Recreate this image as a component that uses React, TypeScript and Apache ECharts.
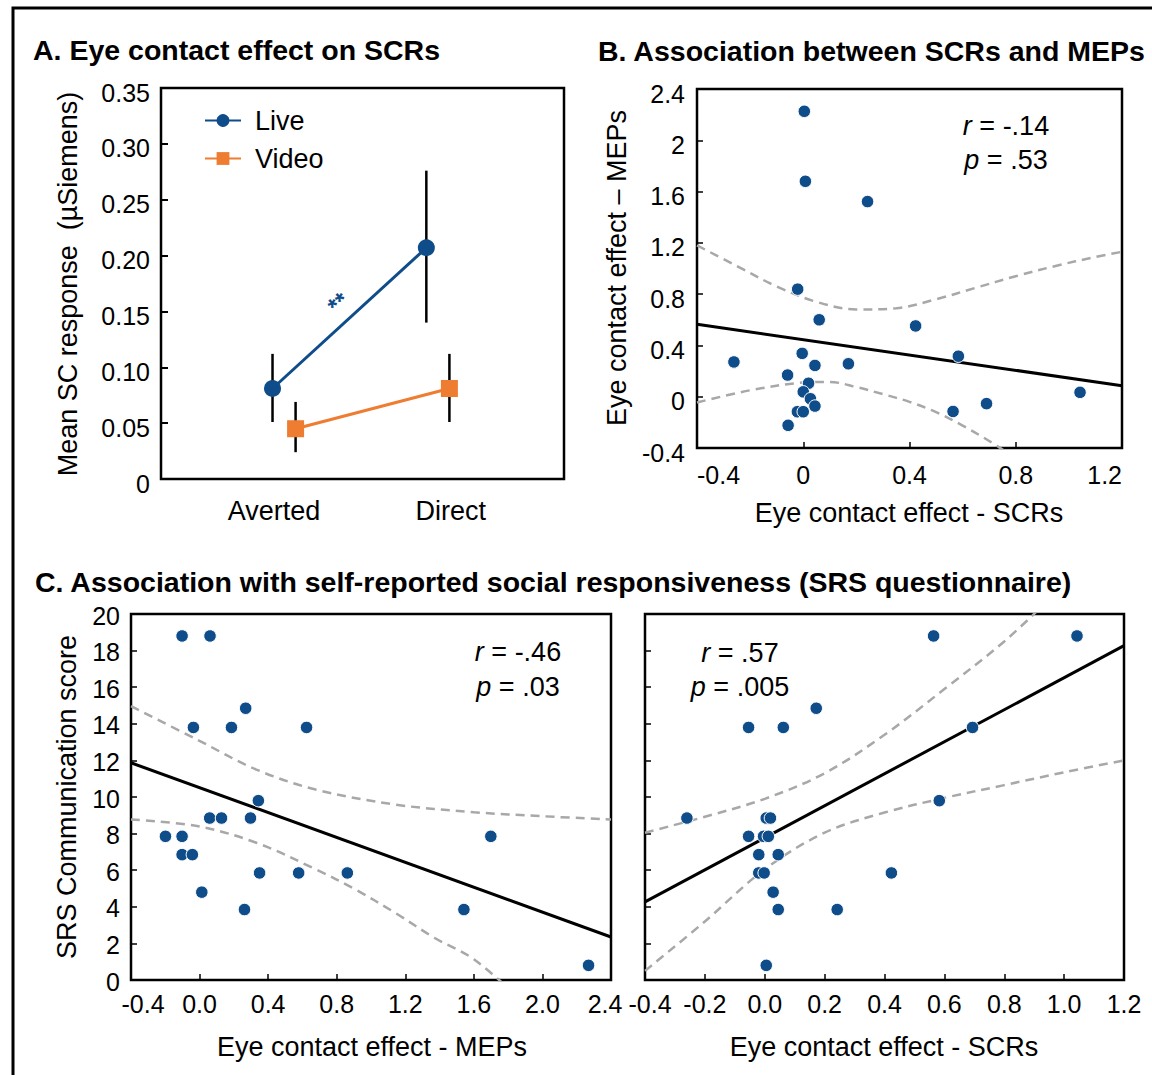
import React, { useEffect, useRef } from 'react';
import * as echarts from 'echarts';

const FONT = '"Liberation Sans", Arial, Helvetica, sans-serif';
const BLUE = '#0e4c8a';
const ORANGE = '#ee7d31';
const DASH_GREY = '#a8a8a8';

// ---------- A. Eye contact effect on SCRs ----------
const conditions = ['Averted', 'Direct'];
const liveMean = [0.081, 0.207];
const liveLow = [0.051, 0.14];
const liveHigh = [0.112, 0.276];
const videoMean = [0.045, 0.081];
const videoLow = [0.024, 0.051];
const videoHigh = [0.069, 0.112];
const scTickLabels = ['0', '0.05', '0.10', '0.15', '0.20', '0.25', '0.30', '0.35'];

// ---------- B. Association between SCRs and MEPs ----------
const bScr = [0.004, 0.008, 0.242, -0.021, 0.06, 0.423, 0.584, -0.004, -0.261, 0.044, 0.17,
  -0.059, 0.02, 0.0, 0.027, 0.044, -0.022, 0.0, -0.057, 0.564, 0.69, 1.042];
const bMep = [2.226, 1.68, 1.522, 0.839, 0.6, 0.552, 0.316, 0.338, 0.271, 0.244, 0.257,
  0.169, 0.105, 0.038, -0.016, -0.073, -0.117, -0.117, -0.223, -0.115, -0.054, 0.034];
const bFit = [[-0.4, 0.565], [1.2, 0.086]];
const bUpper = [[-0.4, 1.18], [-0.25, 1.02], [-0.1, 0.86], [0.05, 0.74], [0.2, 0.68], [0.35, 0.69],
  [0.5, 0.76], [0.65, 0.85], [0.8, 0.94], [0.95, 1.02], [1.1, 1.09], [1.2, 1.13]];
const bLower = [[-0.4, -0.045], [-0.2, 0.05], [0, 0.11], [0.1, 0.115], [0.2, 0.075], [0.3, 0.02],
  [0.4, -0.04], [0.5, -0.12], [0.6, -0.225], [0.7, -0.345], [0.8, -0.48]];
const bStats = { r: '-.14', p: '.53' };

// ---------- C. SRS communication score vs. MEPs (left) ----------
const c1Mep = [-0.102, 0.061, 0.269, -0.036, 0.186, 0.624, 0.343, 0.059, 0.128, 0.297, -0.199,
  -0.102, 1.699, -0.102, -0.042, 0.35, 0.578, 0.862, 0.013, 0.262, 1.542, 2.269];
const c1Srs = [18.8, 18.8, 14.85, 13.8, 13.8, 13.8, 9.8, 8.85, 8.85, 8.85, 7.85,
  7.85, 7.85, 6.85, 6.85, 5.85, 5.85, 5.85, 4.8, 3.85, 3.85, 0.8];
const c1Fit = [[-0.4, 11.87], [2.4, 2.35]];
const c1Upper = [[-0.4, 14.96], [-0.015, 13.14], [0.331, 11.5], [0.677, 10.41], [1.139, 9.59],
  [1.6, 9.17], [2.0, 8.95], [2.4, 8.77]];
const c1Lower = [[-0.4, 8.77], [-0.015, 8.41], [0.331, 7.5], [0.677, 6.05], [0.908, 4.95],
  [1.139, 3.68], [1.369, 2.31], [1.6, 1.13], [1.9, -1.3]];
const c1Stats = { r: '-.46', p: '.03' };

// ---------- C. SRS communication score vs. SCRs (right) ----------
const c2Scr = [0.564, 1.043, 0.172, -0.054, 0.062, 0.694, 0.583, -0.26, 0.005, 0.019, -0.054,
  -0.004, 0.012, -0.02, 0.045, -0.02, -0.002, 0.423, 0.028, 0.045, 0.242, 0.005];
const c2Srs = [18.8, 18.8, 14.85, 13.8, 13.8, 13.8, 9.8, 8.85, 8.85, 8.85, 7.85,
  7.85, 7.85, 6.85, 6.85, 5.85, 5.85, 5.85, 4.8, 3.85, 3.85, 0.8];
const c2Fit = [[-0.4, 4.27], [1.2, 18.27]];
const c2Upper = [[-0.4, 8.05], [-0.2, 8.92], [0, 9.9], [0.2, 11.3], [0.4, 13.4], [0.6, 15.9],
  [0.8, 18.5], [0.95, 20.8]];
const c2Lower = [[-0.4, 0.5], [-0.2, 3.2], [0, 6.05], [0.2, 8.05], [0.4, 9.15], [0.6, 9.95],
  [0.8, 10.65], [1.0, 11.35], [1.2, 12.0]];
const c2Stats = { r: '.57', p: '.005' };

// Horizontal placement of the two gaze groups on panel A's x scale
const groupOffset = 0.075;
const labelNudge = [-0.065, 0.083];

const tickLabelStyle = { fontSize: 25, fontFamily: FONT, color: '#000' };

function pairs(xs: number[], ys: number[]) {
  return xs.map((x, i) => [x, ys[i]]);
}

function textEl(text: string, x: number, y: number, opts: any = {}) {
  return {
    type: 'text',
    x,
    y,
    rotation: opts.rotation || 0,
    silent: true,
    style: {
      text,
      fontSize: opts.fontSize || 27,
      fontWeight: opts.fontWeight || 'normal',
      fontFamily: FONT,
      fill: opts.fill || '#000',
      align: opts.align || 'center',
      verticalAlign: 'middle',
      rich: opts.rich,
    },
  };
}

function statsEl(stats: { r: string; p: string }, cx: number, y1: number, y2: number) {
  const rich = { i: { fontStyle: 'italic', fontSize: 27, fontFamily: FONT, fill: '#000' } };
  return [
    textEl(`{i|r} = ${stats.r}`, cx, y1, { rich }),
    textEl(`{i|p} = ${stats.p}`, cx, y2, { rich }),
  ];
}

function scatterSeries(name: string, idx: number, data: number[][]) {
  return {
    name,
    type: 'scatter',
    xAxisIndex: idx,
    yAxisIndex: idx,
    data,
    symbolSize: 12.5,
    itemStyle: { color: BLUE, opacity: 1, borderColor: '#fff', borderWidth: 1 },
    z: 5,
  };
}

function fitSeries(idx: number, data: number[][]) {
  return {
    type: 'line',
    xAxisIndex: idx,
    yAxisIndex: idx,
    data,
    symbol: 'none',
    lineStyle: { color: '#000', width: 3 },
    z: 3,
  };
}

function bandSeries(idx: number, data: number[][]) {
  return {
    type: 'line',
    xAxisIndex: idx,
    yAxisIndex: idx,
    data,
    smooth: 0.35,
    symbol: 'none',
    clip: true,
    lineStyle: { color: DASH_GREY, width: 2.5, type: [9, 6] },
    z: 2,
  };
}

function errorBarSeries(idx: number, xs: number[], lo: number[], hi: number[]) {
  return {
    type: 'custom',
    xAxisIndex: idx,
    yAxisIndex: idx,
    data: xs.map((x, i) => [x, lo[i], hi[i]]),
    renderItem: (_params: any, api: any) => {
      const a = api.coord([api.value(0), api.value(1)]);
      const b = api.coord([api.value(0), api.value(2)]);
      return {
        type: 'line',
        shape: { x1: a[0], y1: a[1], x2: b[0], y2: b[1] },
        style: { stroke: '#000', lineWidth: 2.5 },
      };
    },
    z: 1,
  };
}

const gridBase = { show: true, borderColor: '#000', borderWidth: 2.5, backgroundColor: 'transparent' };

function valueAxis(extra: any) {
  return {
    type: 'value',
    axisLine: { show: false, onZero: false },
    splitLine: { show: false },
    axisTick: { show: true, inside: true, length: 6, lineStyle: { color: '#000', width: 1.5 } },
    ...extra,
    axisLabel: { ...tickLabelStyle, showMinLabel: true, showMaxLabel: true, ...(extra.axisLabel || {}) },
  };
}

// y tick labels sit a few pixels below their ticks
const yLabelRich = (drop: number, lineHeight?: number) => ({
  v: { padding: [drop, 0, 0, 0], fontSize: 25, fontFamily: FONT, color: '#000', lineHeight },
});
const yLabel = (s: string) => `{v|${s}}`;

// Edge labels of the two lower panels are nudged apart so they do not collide
const edgeRich = (pad: number[]) => ({ padding: pad, fontSize: 25, lineHeight: 20, fontFamily: FONT, color: '#000' });
const isNear = (a: number, b: number) => Math.abs(a - b) < 1e-6;

export default function App() {
  const ref = useRef<HTMLDivElement>(null);

  useEffect(() => {
    if (!ref.current) return;
    const chart = echarts.init(ref.current, null, { renderer: 'svg' });

    const liveX = conditions.map((_, i) => i + 1 - groupOffset);
    const videoX = conditions.map((_, i) => i + 1 + groupOffset);

    const option: any = {
      animation: false,
      backgroundColor: '#fff',
      grid: [
        { ...gridBase, left: 161, top: 88, width: 403, height: 391 },
        { ...gridBase, left: 697, top: 89, width: 425, height: 359 },
        { ...gridBase, left: 131, top: 614, width: 480, height: 366 },
        { ...gridBase, left: 645, top: 614, width: 479, height: 366 },
      ],
      xAxis: [
        valueAxis({
          gridIndex: 0,
          min: 0.2,
          max: 2.82,
          axisTick: { show: false },
          axisLabel: {
            customValues: conditions.map((_, i) => i + 1 + labelNudge[i]),
            formatter: (v: number) => conditions[v < 1.5 ? 0 : 1],
            fontSize: 27,
            margin: 18,
          },
        }),
        valueAxis({
          gridIndex: 1,
          min: -0.4,
          max: 1.2,
          interval: 0.4,
          axisLabel: { margin: 14, alignMinLabel: 'left', alignMaxLabel: 'right' },
        }),
        valueAxis({
          gridIndex: 2,
          min: -0.4,
          max: 2.4,
          interval: 0.4,
          axisLabel: {
            margin: 14,
            lineHeight: 20,
            formatter: (v: number) => {
              const s = v.toFixed(1);
              if (isNear(v, 2.4)) return `{e|${s}}`;
              if (isNear(v, -0.4)) return `{s|${s}}`;
              return s;
            },
            rich: { e: edgeRich([0, 12, 0, 0]), s: edgeRich([0, 0, 0, 24]) },
          },
        }),
        valueAxis({
          gridIndex: 3,
          min: -0.4,
          max: 1.2,
          interval: 0.2,
          axisLabel: {
            margin: 14,
            lineHeight: 20,
            formatter: (v: number) => (isNear(v, -0.4) ? `{s|${v.toFixed(1)}}` : v.toFixed(1)),
            rich: { s: edgeRich([0, 0, 0, 10]) },
          },
        }),
      ],
      yAxis: [
        valueAxis({
          gridIndex: 0,
          min: 0,
          max: 0.35,
          interval: 0.05,
          axisTick: { show: true, inside: true, length: 7, lineStyle: { color: '#000', width: 2 } },
          axisLabel: {
            margin: 11,
            rich: yLabelRich(9),
            formatter: (v: number) => yLabel(scTickLabels[Math.round(v / 0.05)]),
          },
        }),
        valueAxis({
          gridIndex: 1,
          min: -0.4,
          max: 2.4,
          interval: 0.4,
          axisLabel: {
            margin: 12,
            rich: yLabelRich(9),
            formatter: (v: number) => yLabel(String(Math.round(v * 10) / 10)),
          },
        }),
        valueAxis({
          gridIndex: 2,
          min: 0,
          max: 20,
          interval: 2,
          axisLabel: { margin: 11, rich: yLabelRich(3, 20), formatter: (v: number) => yLabel(String(v)) },
        }),
        valueAxis({ gridIndex: 3, min: 0, max: 20, interval: 2, axisLabel: { show: false } }),
      ],
      legend: {
        data: ['Live', 'Video'],
        orient: 'vertical',
        left: 204,
        top: 107,
        padding: 0,
        itemWidth: 36,
        itemHeight: 16,
        itemGap: 11,
        selectedMode: false,
        textStyle: { fontSize: 27, fontFamily: FONT, color: '#000', padding: [0, 0, 0, 9] },
      },
      series: [
        errorBarSeries(0, liveX, liveLow, liveHigh),
        errorBarSeries(0, videoX, videoLow, videoHigh),
        {
          name: 'Live',
          type: 'line',
          xAxisIndex: 0,
          yAxisIndex: 0,
          data: pairs(liveX, liveMean),
          symbol: 'circle',
          symbolSize: 17,
          itemStyle: { color: BLUE },
          lineStyle: { color: BLUE, width: 3 },
          z: 4,
        },
        {
          name: 'Video',
          type: 'line',
          xAxisIndex: 0,
          yAxisIndex: 0,
          data: pairs(videoX, videoMean),
          symbol: 'rect',
          symbolSize: 17,
          itemStyle: { color: ORANGE },
          lineStyle: { color: ORANGE, width: 3 },
          z: 4,
        },
        bandSeries(1, bUpper),
        bandSeries(1, bLower),
        fitSeries(1, bFit),
        scatterSeries('SCR vs MEP', 1, pairs(bScr, bMep)),
        bandSeries(2, c1Upper),
        bandSeries(2, c1Lower),
        fitSeries(2, c1Fit),
        scatterSeries('MEP vs SRS', 2, pairs(c1Mep, c1Srs)),
        bandSeries(3, c2Upper),
        bandSeries(3, c2Lower),
        fitSeries(3, c2Fit),
        scatterSeries('SCR vs SRS', 3, pairs(c2Scr, c2Srs)),
      ],
      graphic: [
        {
          type: 'rect',
          silent: true,
          shape: { x: 13, y: 8, width: 1400, height: 1400 },
          style: { fill: 'none', stroke: '#000', lineWidth: 3 },
        },
        textEl('A. Eye contact effect on SCRs', 33, 50, { fontSize: 28.5, fontWeight: 'bold', align: 'left' }),
        textEl('B. Association between SCRs and MEPs', 598, 51, { fontSize: 28.5, fontWeight: 'bold', align: 'left' }),
        textEl('C. Association with self-reported social responsiveness (SRS questionnaire)', 35, 582,
          { fontSize: 28.5, fontWeight: 'bold', align: 'left' }),
        textEl('Mean SC response  (\u00b5Siemens)', 68, 284, { rotation: Math.PI / 2 }),
        textEl('Eye contact effect \u2013 MEPs', 617, 268, { rotation: Math.PI / 2 }),
        textEl('Eye contact effect - SCRs', 909, 513),
        textEl('SRS Communication score', 67, 797, { rotation: Math.PI / 2 }),
        textEl('Eye contact effect - MEPs', 372, 1047),
        textEl('Eye contact effect - SCRs', 884, 1047),
        textEl('**', 338, 303, { rotation: (40 * Math.PI) / 180, fontSize: 24, fontWeight: 'bold', fill: BLUE }),
        ...statsEl(bStats, 1006, 126, 160),
        ...statsEl(c1Stats, 518, 652, 687),
        ...statsEl(c2Stats, 740, 653, 687),
      ],
    };

    chart.setOption(option);
    return () => chart.dispose();
  }, []);

  return (
    <div
      ref={ref}
      style={{ position: 'absolute', left: 0, top: 0, width: 1152, height: 1075, background: '#fff' }}
    />
  );
}
